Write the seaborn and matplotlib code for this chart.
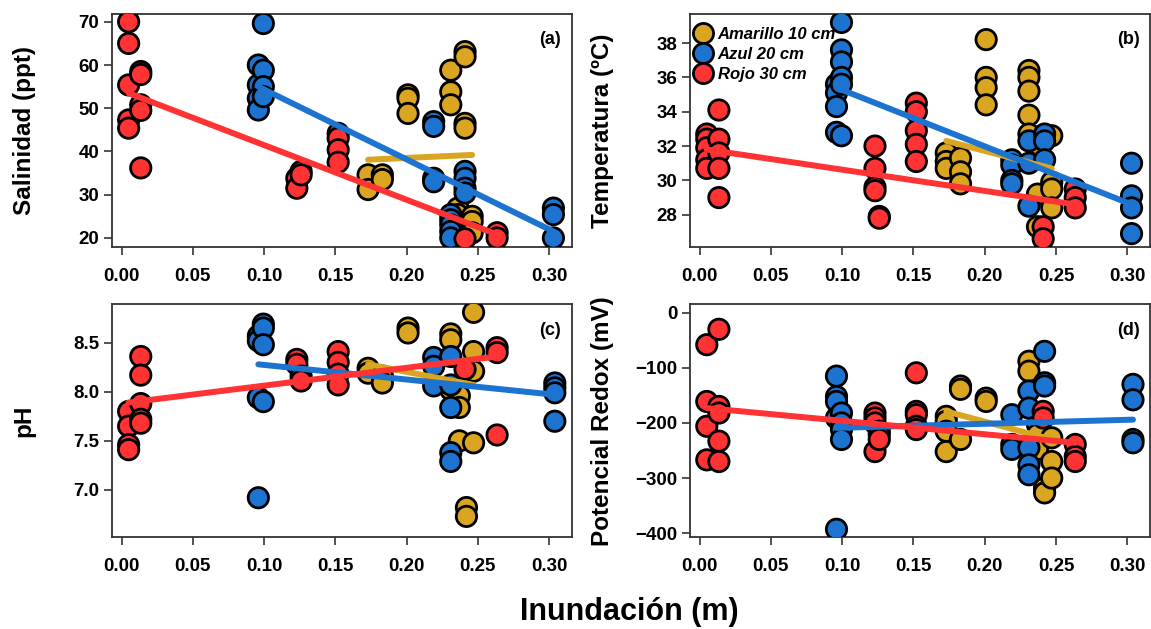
import matplotlib
matplotlib.use("Agg")
import matplotlib.pyplot as plt
from matplotlib.lines import Line2D
import pandas as pd
import seaborn as sns

# grupos (profundidad del sensor) y colores
grupos = ["Amarillo 10 cm", "Azul 20 cm", "Rojo 30 cm"]
colores = ["#DAA520", "#1C74D0", "#FF3333"]

# ---- (a) Salinidad (ppt) ----
sal_am_x = [0.173, 0.173, 0.183, 0.183, 0.201, 0.201, 0.201, 0.231, 0.231, 0.231,
            0.236, 0.236, 0.236, 0.241, 0.241, 0.241, 0.241, 0.246, 0.246, 0.246]
sal_am_y = [34.6, 31.2, 34.6, 33.5, 53.1, 52.3, 48.8, 58.8, 53.8, 50.8,
            26.9, 25.4, 20.8, 63.1, 61.9, 46.5, 45.4, 25.0, 23.8, 21.2]
sal_az_x = [0.096, 0.096, 0.096, 0.096, 0.0995, 0.0995, 0.0995, 0.0995,
            0.219, 0.219, 0.219, 0.219, 0.231, 0.231, 0.231, 0.231, 0.231,
            0.241, 0.241, 0.241, 0.241, 0.303, 0.303, 0.303]
sal_az_y = [60.0, 55.4, 52.3, 49.6, 69.6, 58.8, 55.0, 52.7,
            46.9, 45.8, 33.8, 33.0, 25.4, 24.2, 23.0, 21.5, 20.0,
            35.4, 33.8, 31.5, 30.4, 26.9, 25.4, 20.0]
sal_ro_x = [0.005, 0.005, 0.005, 0.005, 0.005, 0.0135, 0.0135, 0.0135, 0.0135, 0.0135,
            0.123, 0.123, 0.126, 0.126, 0.152, 0.152, 0.152, 0.152, 0.241, 0.2635, 0.2635]
sal_ro_y = [70.0, 65.0, 55.4, 47.3, 45.4, 58.5, 57.8, 50.8, 49.5, 36.2,
            33.8, 31.5, 35.4, 34.6, 44.2, 43.1, 40.4, 37.5, 19.8, 21.2, 20.0]
sal_fit = [(38.1, 39.2), (55.0, 21.5), (53.5, 20.8)]

# ---- (b) Temperatura (°C) ----
tem_am_x = [0.173, 0.173, 0.173, 0.183, 0.183, 0.183, 0.201, 0.201, 0.201, 0.201,
            0.231, 0.231, 0.231, 0.231, 0.231, 0.237, 0.237, 0.237,
            0.247, 0.247, 0.247, 0.247]
tem_am_y = [31.6, 31.1, 30.7, 31.3, 30.5, 29.8, 38.2, 36.0, 35.4, 34.4,
            36.4, 36.0, 35.2, 33.8, 32.7, 32.1, 29.2, 27.3,
            32.6, 29.9, 29.5, 28.4]
tem_az_x = [0.096, 0.096, 0.096, 0.096, 0.0995, 0.0995, 0.0995, 0.0995, 0.0995, 0.0995,
            0.219, 0.219, 0.219, 0.219, 0.231, 0.231, 0.231, 0.242, 0.242, 0.242,
            0.303, 0.303, 0.303, 0.303]
tem_az_y = [35.6, 35.1, 34.3, 32.8, 39.2, 37.6, 36.9, 36.0, 35.6, 32.6,
            31.2, 30.9, 30.0, 29.8, 32.3, 31.0, 28.5, 32.7, 32.3, 31.2,
            31.0, 29.1, 28.4, 26.9]
tem_ro_x = [0.005, 0.005, 0.005, 0.005, 0.005, 0.0135, 0.0135, 0.0135, 0.0135, 0.0135,
            0.123, 0.123, 0.123, 0.123, 0.126, 0.126, 0.152, 0.152, 0.152, 0.152, 0.152,
            0.241, 0.241, 0.2635, 0.2635, 0.2635]
tem_ro_y = [32.7, 32.4, 31.9, 31.2, 30.7, 34.1, 32.4, 31.6, 30.7, 29.0,
            32.0, 30.7, 29.6, 29.4, 27.9, 27.8, 34.5, 34.0, 32.9, 32.1, 31.1,
            27.3, 26.6, 29.5, 29.0, 28.4]
tem_fit = [(32.3, 30.7), (35.4, 28.6), (31.8, 28.6)]

# ---- (c) pH ----
ph_am_x = [0.173, 0.173, 0.183, 0.183, 0.201, 0.201, 0.231, 0.231, 0.231,
           0.237, 0.237, 0.237, 0.242, 0.242, 0.247, 0.247, 0.247, 0.247]
ph_am_y = [8.24, 8.19, 8.16, 8.09, 8.65, 8.60, 8.59, 8.53, 8.02,
           7.96, 7.84, 7.50, 6.82, 6.73, 8.81, 8.41, 8.21, 7.48]
ph_az_x = [0.096, 0.096, 0.096, 0.096, 0.0995, 0.0995, 0.0995, 0.0995,
           0.219, 0.219, 0.219, 0.231, 0.231, 0.231, 0.231, 0.231,
           0.304, 0.304, 0.304, 0.304]
ph_az_y = [8.57, 8.52, 7.94, 6.92, 8.69, 8.65, 8.48, 7.90,
           8.35, 8.26, 8.06, 8.36, 8.07, 7.84, 7.38, 7.29,
           8.09, 8.04, 7.99, 7.70]
ph_ro_x = [0.005, 0.005, 0.005, 0.005, 0.0135, 0.0135, 0.0135, 0.0135, 0.0135,
           0.123, 0.123, 0.126, 0.126, 0.152, 0.152, 0.152, 0.152,
           0.241, 0.2635, 0.2635, 0.2635]
ph_ro_y = [7.80, 7.65, 7.46, 7.41, 8.36, 8.17, 7.88, 7.72, 7.68,
           8.33, 8.28, 8.16, 8.11, 8.41, 8.30, 8.18, 8.07,
           8.23, 8.45, 8.40, 7.56]
ph_fit = [(8.28, 8.07), (8.28, 7.97), (7.89, 8.36)]

# ---- (d) Potencial Redox (mV) ----
rdx_am_x = [0.173, 0.173, 0.173, 0.173, 0.183, 0.183, 0.183, 0.201, 0.201,
            0.231, 0.231, 0.237, 0.237, 0.237, 0.242, 0.242, 0.247, 0.247, 0.247]
rdx_am_y = [-188, -197, -215, -252, -133, -139, -230, -155, -161,
            -88, -106, -203, -221, -248, -318, -327, -227, -270, -300]
rdx_az_x = [0.096, 0.096, 0.096, 0.096, 0.096, 0.0995, 0.0995, 0.0995, 0.0995,
            0.219, 0.219, 0.219, 0.231, 0.231, 0.231, 0.231, 0.231,
            0.242, 0.242, 0.242, 0.304, 0.304, 0.304, 0.304]
rdx_az_y = [-115, -152, -161, -191, -393, -182, -200, -212, -230,
            -185, -239, -248, -142, -173, -245, -276, -294,
            -70, -127, -133, -130, -158, -230, -236]
rdx_ro_x = [0.005, 0.005, 0.005, 0.005, 0.0135, 0.0135, 0.0135, 0.0135, 0.0135,
            0.123, 0.123, 0.123, 0.123, 0.126, 0.126, 0.126,
            0.152, 0.152, 0.152, 0.152, 0.152, 0.241, 0.241, 0.2635, 0.2635, 0.2635]
rdx_ro_y = [-58, -161, -206, -267, -30, -170, -182, -233, -270,
            -182, -191, -200, -252, -215, -221, -230,
            -109, -179, -185, -206, -212, -179, -191, -239, -261, -270]
rdx_fit = [(-179, -230), (-209, -194), (-173, -236)]

x_ticks = [0.00, 0.05, 0.10, 0.15, 0.20, 0.25, 0.30]


def to_df(xs, ys):
    frames = []
    for g, x, y in zip(grupos, xs, ys):
        frames.append(pd.DataFrame({"x": x, "y": y, "grupo": g}))
    return pd.concat(frames, ignore_index=True)


paneles = [
    ([0.0969, 0.6073, 0.4, 0.3704], to_df([sal_am_x, sal_az_x, sal_ro_x], [sal_am_y, sal_az_y, sal_ro_y]),
     sal_fit, "Salinidad (ppt)", (17.9, 71.8), [20, 30, 40, 50, 60, 70], "%d", "(a)"),
    ([0.5992, 0.6073, 0.4, 0.3704], to_df([tem_am_x, tem_az_x, tem_ro_x], [tem_am_y, tem_az_y, tem_ro_y]),
     tem_fit, "Temperatura (ºC)", (26.12, 39.69), [28, 30, 32, 34, 36, 38], "%d", "(b)"),
    ([0.0969, 0.1463, 0.4, 0.3696], to_df([ph_am_x, ph_az_x, ph_ro_x], [ph_am_y, ph_az_y, ph_ro_y]),
     ph_fit, "pH", (6.52, 8.89), [7.0, 7.5, 8.0, 8.5], "%.1f", "(c)"),
    ([0.5992, 0.1463, 0.4, 0.3696], to_df([rdx_am_x, rdx_az_x, rdx_ro_x], [rdx_am_y, rdx_az_y, rdx_ro_y]),
     rdx_fit, "Potencial Redox (mV)", (-407, 15), [-400, -300, -200, -100, 0], "%d", "(d)"),
]

sns.set_style("ticks")
plt.rcParams["font.family"] = ["Liberation Sans", "DejaVu Sans"]
plt.rcParams["font.weight"] = "bold"
plt.rcParams["text.color"] = "black"
plt.rcParams["axes.labelcolor"] = "black"
plt.rcParams["xtick.color"] = "black"
plt.rcParams["ytick.color"] = "black"

fig = plt.figure(figsize=(11.51, 6.29), dpi=100)

for pos, df, fits, ylab, ylim, yticks, yfmt, tag in paneles:
    ax = fig.add_axes(pos)
    sns.scatterplot(data=df, x="x", y="y", hue="grupo", hue_order=grupos, palette=colores,
                    s=215, edgecolor="black", linewidth=2.0, alpha=1, legend=False,
                    ax=ax, zorder=3)
    # rectas de ajuste (extremos)
    for g, c, (y0, y1) in zip(grupos, colores, fits):
        sub = df[df["grupo"] == g]
        sns.lineplot(x=[sub["x"].min(), sub["x"].max()], y=[y0, y1], color=c,
                     linewidth=4.3, ax=ax, zorder=4, estimator=None)

    ax.set_xlim(-0.007, 0.316)
    ax.set_ylim(*ylim)
    ax.set_xticks(x_ticks)
    ax.set_xticklabels(["%.2f" % t for t in x_ticks])
    ax.set_yticks(yticks)
    ax.set_yticklabels([(yfmt % t).replace("-", "\u2212") for t in yticks])
    ax.tick_params(axis="both", direction="out", length=6, width=1.2, color="#333333",
                   labelsize=13.5, labelcolor="black")
    ax.tick_params(axis="x", pad=9)
    ax.tick_params(axis="y", pad=3)
    for sp in ax.spines.values():
        sp.set_visible(True)
        sp.set_color("#333333")
        sp.set_linewidth(1.3)
    ax.set_xlabel("")
    ax.set_ylabel(ylab, fontsize=17.5, fontweight="bold", color="black")
    ax.yaxis.set_label_coords(-0.165, 0.5)
    ax.text(0.977, 0.89, tag, transform=ax.transAxes, ha="right", va="center",
            fontsize=13, fontweight="bold", color="black")

    if tag == "(b)":
        handles = [Line2D([], [], marker="o", linestyle="none", markersize=14.5,
                          markerfacecolor=c, markeredgecolor="black", markeredgewidth=2.0)
                   for c in colores]
        leg = ax.legend(handles, grupos, loc="upper left", bbox_to_anchor=(0.0, 0.968),
                        frameon=False, borderaxespad=0.0, borderpad=0.33,
                        handlelength=0.9, handletextpad=0.45, labelspacing=0.3,
                        prop={"size": 12, "weight": "bold", "style": "italic"})
        for t in leg.get_texts():
            t.set_color("black")
        leg.set_zorder(2)

fig.text(0.547, 0.014, "Inundación (m)", ha="center", va="baseline",
         fontsize=22, fontweight="bold", color="black")

fig.savefig("out.png", dpi=100)
